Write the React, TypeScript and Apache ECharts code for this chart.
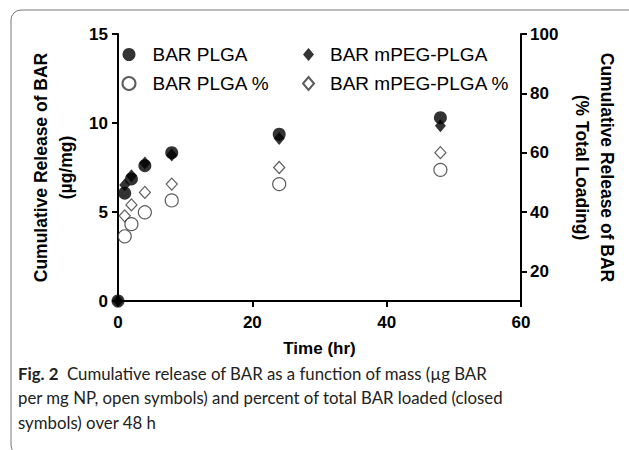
import React, { useEffect, useRef } from "react";
import * as echarts from "echarts";

const times = [0, 1, 2, 4, 8, 24, 48];
const plgaMass = [0, 6.06, 6.86, 7.6, 8.33, 9.37, 10.3];
const mpegMass = [0, 6.52, 7.04, 7.75, 8.2, 9.13, 9.85];
const pctTimes = [1, 2, 4, 8, 24, 48];
const plgaPct = [31.8, 35.9, 39.9, 43.9, 49.4, 54.2];
const mpegPct = [38.7, 42.4, 46.6, 49.4, 55.0, 60.0];
const xTicks = [0, 20, 40, 60];
const leftTicks = [0, 5, 10, 15];
const rightTicks = [20, 40, 60, 80, 100];

const FONT = "'Liberation Sans', Arial, sans-serif";
const DIAMOND = "path://M5.5,0L11,6.5L5.5,13L0,6.5Z";

export default function App() {
  const ref = useRef<HTMLDivElement>(null);
  useEffect(() => {
    if (!ref.current) return;
    const chart = echarts.init(ref.current, null, { renderer: "svg" });
    const pair = (xs: number[], ys: number[]) => xs.map((x, i) => [x, ys[i]]);
    const axisCommon = {
      axisLine: { show: true, lineStyle: { color: "#000", width: 2 } },
      axisTick: { show: true, inside: false, length: 6, lineStyle: { color: "#000", width: 2 } },
      splitLine: { show: false },
      axisLabel: { color: "#000", fontFamily: FONT, fontWeight: "bold", fontSize: 17 },
      nameTextStyle: { color: "#000", fontFamily: FONT, fontWeight: "bold", fontSize: 17.5, lineHeight: 25 },
    };
    const legendText = { fontFamily: FONT, fontSize: 19, color: "#000", padding: [0, 0, 0, 12] };
    chart.setOption({
      animation: false,
      backgroundColor: "#fff",
      grid: { left: 118, right: 108, top: 34, bottom: 149, containLabel: false },
      legend: [
        {
          orient: "vertical",
          left: 121.5,
          top: 45,
          padding: 0,
          itemWidth: 13,
          itemHeight: 13,
          itemGap: 10,
          data: [
            { name: "BAR PLGA", icon: "circle" },
            { name: "BAR PLGA %", icon: "circle" },
          ],
          textStyle: legendText,
        },
        {
          orient: "vertical",
          left: 302,
          top: 45,
          padding: 0,
          itemWidth: 13,
          itemHeight: 13,
          itemGap: 10,
          data: [
            { name: "BAR mPEG-PLGA", icon: DIAMOND },
            { name: "BAR mPEG-PLGA %", icon: DIAMOND },
          ],
          textStyle: { ...legendText, padding: [0, 0, 0, 10] },
        },
      ],
      xAxis: {
        type: "value",
        min: xTicks[0],
        max: xTicks[xTicks.length - 1],
        interval: 20,
        name: "Time (hr)",
        nameLocation: "middle",
        nameGap: 32,
        ...axisCommon,
        nameTextStyle: { ...axisCommon.nameTextStyle, fontSize: 17 },
        axisLabel: { ...axisCommon.axisLabel, margin: 13 },
      },
      yAxis: [
        {
          type: "value",
          min: leftTicks[0],
          max: leftTicks[leftTicks.length - 1],
          interval: 5,
          name: "Cumulative Release of BAR\n(µg/mg)",
          nameLocation: "middle",
          nameRotate: 90,
          nameGap: 34,
          ...axisCommon,
          axisLabel: { ...axisCommon.axisLabel, margin: 10 },
        },
        {
          type: "value",
          position: "right",
          min: 10,
          max: 100,
          name: "Cumulative Release of BAR\n(% Total Loading)",
          nameLocation: "middle",
          nameRotate: -90,
          nameGap: 40,
          ...axisCommon,
          axisTick: { ...axisCommon.axisTick, customValues: rightTicks },
          axisLabel: { ...axisCommon.axisLabel, margin: 9, customValues: rightTicks },
        },
      ],
      series: [
        {
          name: "BAR mPEG-PLGA",
          type: "scatter",
          yAxisIndex: 0,
          symbol: DIAMOND,
          symbolSize: [11, 13],
          itemStyle: { color: "#000" },
          data: pair(times, mpegMass),
          z: 2,
        },
        {
          name: "BAR PLGA",
          type: "scatter",
          yAxisIndex: 0,
          symbol: "circle",
          symbolSize: 13,
          itemStyle: { color: "#000" },
          data: pair(times, plgaMass),
          z: 3,
        },
        {
          name: "BAR mPEG-PLGA %",
          type: "scatter",
          yAxisIndex: 1,
          symbol: DIAMOND,
          symbolSize: [11, 12],
          itemStyle: { color: "#fff", borderColor: "#333", borderWidth: 1.2 },
          data: pair(pctTimes, mpegPct),
          z: 2,
        },
        {
          name: "BAR PLGA %",
          type: "scatter",
          yAxisIndex: 1,
          symbol: "circle",
          symbolSize: 13,
          itemStyle: { color: "#fff", borderColor: "#333", borderWidth: 1.2 },
          data: pair(pctTimes, plgaPct),
          z: 2,
        },
      ],
      graphic: [
        {
          type: "rect",
          shape: { x: 11, y: 10, width: 640, height: 445, r: 10 },
          style: { fill: "none", stroke: "#777", lineWidth: 1 },
          silent: true,
        },
        {
          type: "text",
          left: 18,
          top: 361,
          style: {
            text: "{b|Fig. 2}  Cumulative release of BAR as a function of mass (µg BAR\nper mg NP, open symbols) and percent of total BAR loaded (closed\nsymbols) over 48 h",
            font: "16.8px Lato, 'Open Sans', sans-serif",
            fill: "#222",
            lineHeight: 24.5,
            rich: {
              b: { fontWeight: "bold", fontFamily: "Lato, 'Open Sans', sans-serif", fontSize: 16.8, fill: "#222", lineHeight: 24.5 },
            },
          },
        },
      ],
    });
    return () => chart.dispose();
  }, []);
  return <div ref={ref} style={{ width: 629, height: 450, position: "absolute", left: 0, top: 0 }} />;
}
